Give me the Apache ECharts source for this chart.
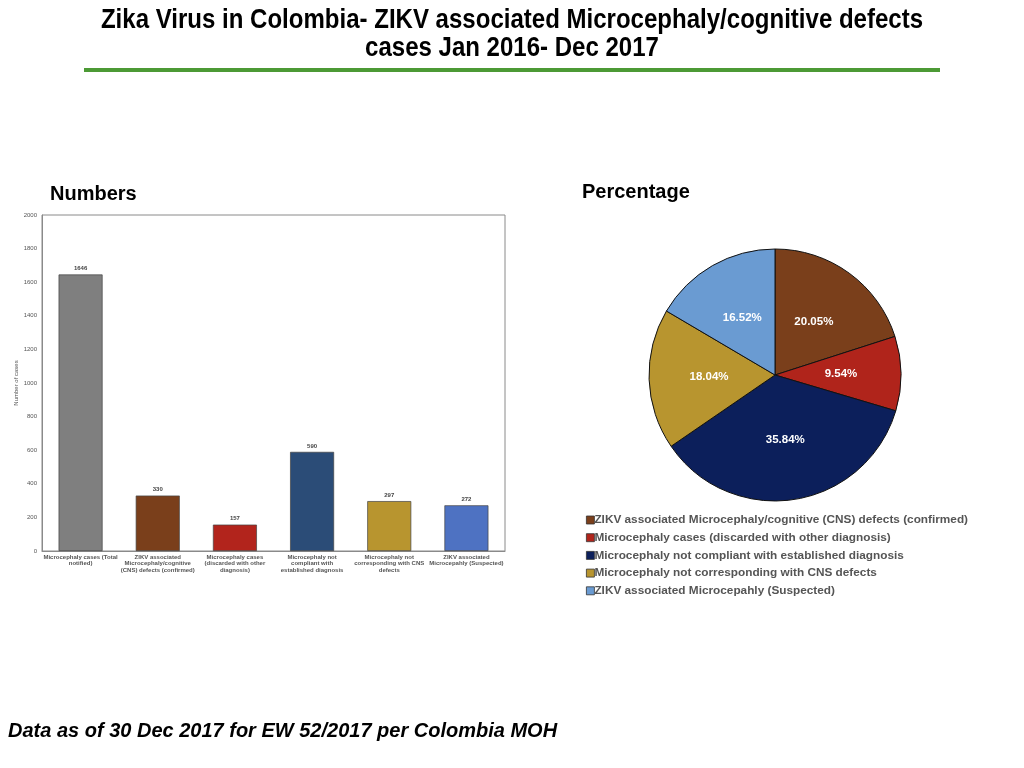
<!DOCTYPE html>
<html>
<head>
<meta charset="utf-8">
<script src="https://cdn.jsdelivr.net/npm/echarts@6/dist/echarts.min.js"></script>
<style>
  html, body { margin: 0; padding: 0; background: #fff; }
  #chart { width: 1024px; height: 768px; }
</style>
</head>
<body>
<div id="chart"></div>
<script>
// bar chart: case counts
const barCategories = [
  'Microcephaly cases (Total\nnotified)',
  'ZIKV associated\nMicrocephaly/cognitive\n(CNS) defects (confirmed)',
  'Microcephaly cases\n(discarded with other\ndiagnosis)',
  'Microcephaly not\ncompliant with\nestablished diagnosis',
  'Microcephaly not\ncorresponding with CNS\ndefects',
  'ZIKV associated\nMicrocepahly (Suspected)'
];
const barValues = [1646, 330, 157, 590, 297, 272];
const barColors = ['#7f7f7f', '#7a3f1b', '#b2241c', '#2b4c77', '#b8952f', '#4e72c2'];

// pie chart: breakdown of the notified cases
const pieNames = [
  'ZIKV associated Microcephaly/cognitive (CNS) defects (confirmed)',
  'Microcephaly cases (discarded with other diagnosis)',
  'Microcephaly not compliant with established diagnosis',
  'Microcephaly not corresponding with CNS defects',
  'ZIKV associated Microcepahly (Suspected)'
];
const pieValues = [330, 157, 590, 297, 272];
const pieColors = ['#7a3f1b', '#b0241b', '#0c1f5b', '#b8952f', '#6a9bd2'];

const yTicks = {min: 0, max: 2000, interval: 200};

const pieTotal = pieValues.reduce((a, b) => a + b, 0);

const chart = echarts.init(document.getElementById('chart'));

chart.setOption({
  animation: false,
  graphic: [
    {
      type: 'text', x: 512, y: 7, scaleX: 0.89,
      style: {
        text: 'Zika Virus in Colombia- ZIKV associated Microcephaly/cognitive defects\ncases Jan 2016- Dec 2017',
        font: 'bold 27px "Liberation Sans", Arial, sans-serif',
        fill: '#000', align: 'center', lineHeight: 28
      }
    },
    {
      type: 'rect', shape: {x: 84, y: 68, width: 856, height: 4},
      style: {fill: '#4c9a35'}
    },
    {
      type: 'text', left: 50, top: 184,
      style: {text: 'Numbers', font: 'bold 20px "Liberation Sans", Arial, sans-serif', fill: '#000'}
    },
    {
      type: 'text', left: 582, top: 182,
      style: {text: 'Percentage', font: 'bold 20px "Liberation Sans", Arial, sans-serif', fill: '#000'}
    },
    {
      type: 'text', left: 8, top: 721,
      style: {
        text: 'Data as of 30 Dec 2017 for EW 52/2017 per Colombia MOH',
        font: 'italic bold 20px "Liberation Sans", Arial, sans-serif', fill: '#000'
      }
    }
  ],
  grid: {
    left: 42, top: 215, width: 463, height: 336,
    show: true, borderColor: '#8a8a8a', borderWidth: 1, backgroundColor: '#fff'
  },
  xAxis: {
    type: 'category',
    data: barCategories,
    axisLine: {lineStyle: {color: '#8a8a8a'}},
    axisTick: {show: false},
    axisLabel: {
      interval: 0, margin: 3, color: '#555', fontSize: 6, fontWeight: 'bold',
      lineHeight: 6.5, fontFamily: 'Liberation Sans, Arial, sans-serif'
    }
  },
  yAxis: {
    type: 'value',
    min: yTicks.min, max: yTicks.max, interval: yTicks.interval,
    name: 'Number of cases',
    nameLocation: 'middle', nameGap: 20, nameRotate: 90,
    nameTextStyle: {fontSize: 6, color: '#555', fontFamily: 'Liberation Sans, Arial, sans-serif'},
    axisLine: {show: true, lineStyle: {color: '#8a8a8a'}},
    axisTick: {show: false},
    splitLine: {show: false},
    axisLabel: {
      fontSize: 6, color: '#555', margin: 5, formatter: v => String(v),
      fontFamily: 'Liberation Sans, Arial, sans-serif'
    }
  },
  legend: {
    data: pieNames,
    orient: 'vertical',
    left: 581, top: 509,
    itemWidth: 8, itemHeight: 8, itemGap: 5.7,
    icon: 'rect',
    itemStyle: {borderColor: '#333', borderWidth: 0.8},
    textStyle: {
      fontSize: 11.8, fontWeight: 'bold', color: '#555', padding: [0, 0, 0, -5],
      fontFamily: 'Liberation Sans, Arial, sans-serif'
    }
  },
  series: [
    {
      name: 'Numbers',
      type: 'bar',
      barWidth: '57%',
      data: barValues.map((v, i) => ({
        value: v,
        itemStyle: {color: barColors[i], borderColor: '#444', borderWidth: 0.7}
      })),
      label: {
        show: true, position: 'top', distance: 3,
        fontSize: 6, fontWeight: 'bold', color: '#444',
        fontFamily: 'Liberation Sans, Arial, sans-serif'
      }
    },
    {
      name: 'Percentage',
      type: 'pie',
      center: [775, 375],
      radius: 126,
      startAngle: 90,
      clockwise: true,
      color: pieColors,
      itemStyle: {borderColor: '#111', borderWidth: 1},
      label: {
        position: 'inner',
        formatter: p => (p.value / pieTotal * 100).toFixed(2) + '%',
        color: '#fff', fontSize: 11.5, fontWeight: 'bold',
        fontFamily: 'Liberation Sans, Arial, sans-serif'
      },
      labelLine: {show: false},
      emphasis: {disabled: true},
      data: pieNames.map((n, i) => ({name: n, value: pieValues[i]}))
    }
  ]
});
</script>
</body>
</html>
